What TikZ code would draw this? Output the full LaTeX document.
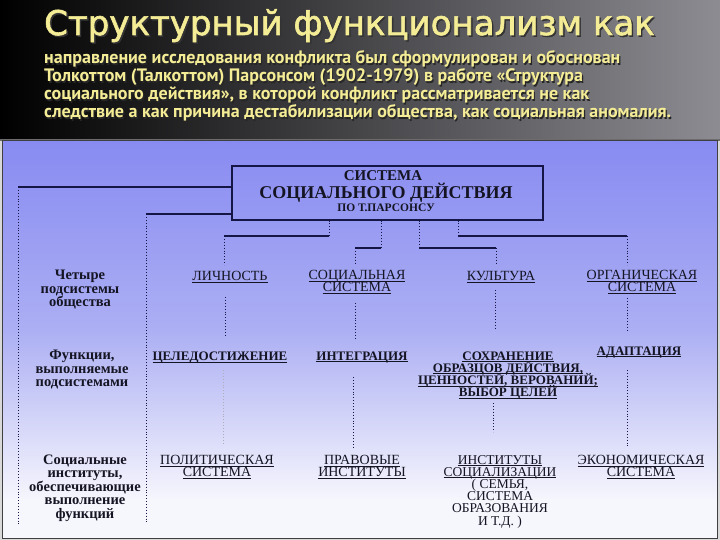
\documentclass[tikz,border=0pt]{standalone}
\usepackage{fontspec}
\setmainfont{Liberation Serif}
\newfontfamily\hdrfont[FakeBold=1.8]{DejaVu Sans}
\newfontfamily\parfont{PT Sans}
\usetikzlibrary{calc}
\newcommand\uln[1]{\underline{\raisebox{0pt}[\height][0pt]{#1}}}
\definecolor{hdryellow}{RGB}{245,237,150}
\definecolor{navy}{RGB}{22,22,70}
\definecolor{ink}{RGB}{20,20,35}
\definecolor{blueA}{RGB}{136,139,241}
\definecolor{blueB}{RGB}{172,175,243}
\definecolor{blueC}{RGB}{246,246,253}
\definecolor{hdrR}{RGB}{140,140,146}
\begin{document}
\lineskiplimit=-100pt
\begin{tikzpicture}[x=1pt,y=-1pt,
  ttl/.style={anchor=base west, inner sep=0pt, font=\hdrfont\fontsize{34}{34}\selectfont},
  par/.style={anchor=base west, inner sep=0pt, font=\parfont\bfseries\fontsize{18}{18}\selectfont},
  side/.style={align=center, inner sep=0pt, text=ink, font=\bfseries\fontsize{14.5}{13.5}\selectfont},
  lbl/.style={align=center, inner sep=0pt, text=ink, font=\fontsize{14}{12.5}\selectfont},
  blbl/.style={align=center, inner sep=0pt, text=ink, font=\bfseries\fontsize{13}{12.2}\selectfont},
  boxtxt/.style={inner sep=0pt, text=ink},
  hline/.style={draw=navy, line width=1.2pt},
  vline/.style={draw=navy, dotted, line width=0.9pt},
  fline/.style={draw=navy!35, dotted, line width=0.9pt},
]
\useasboundingbox (0,0) rectangle (720,540);
% header
\shade[left color=black, right color=hdrR] (0,0) rectangle (720,140);
\fill[gray!85!black] (0,139) rectangle (720,141);
% panel
\fill[gray!30] (0,141) rectangle (720,540);
\shade[top color=blueA, bottom color=blueB] (2,141) rectangle (717,330);
\shade[top color=blueB, bottom color=blueC] (2,330) rectangle (717,500);
\fill[blueC] (2,500) rectangle (717,538);
\draw[draw=gray!50!black, line width=1pt] (2,141) rectangle (717,538);

% title
\node[ttl, text=black!80] (tsh) at (45.5,36.5) {Структурный функционализм как};
\node[ttl, text=hdryellow] (title) at (44,35) {Структурный функционализм как};
% paragraph
\foreach \i/\y/\t in {1/64/{направление исследования конфликта был сформулирован и обоснован},
                      2/82/{Толкоттом (Талкоттом) Парсонсом (1902-1979) в работе «Структура},
                      3/100/{социального действия», в которой конфликт рассматривается не как},
                      4/118/{следствие а как причина дестабилизации общества, как социальная аномалия.}}{
  \node[par, text=black!85] (ps\i) at (45.2,\y+1.2) {\t};
  \node[par, text=hdryellow] (p\i) at (44,\y) {\t};
}

% main box
\node[draw=navy, line width=1.1pt, minimum width=311pt, minimum height=54pt, inner sep=0pt] (sys) at (387.5,193) {};
\node[boxtxt, font=\bfseries\fontsize{15}{15}\selectfont] (sysA) at (383,176) {СИСТЕМА};
\node[boxtxt, font=\bfseries\fontsize{18}{19}\selectfont] (sysB) at (386,193) {СОЦИАЛЬНОГО ДЕЙСТВИЯ};
\node[boxtxt, font=\bfseries\fontsize{11.5}{12}\selectfont] (sysC) at (386,208) {ПО Т.ПАРСОНСУ};

% left column
\node[side] (four) at (80,290) {Четыре\\подсистемы\\общества};
\node[side] (func) at (82,370) {Функции,\\выполняемые\\подсистемами};
\node[side] (inst) at (85,488) {Социальные\\институты,\\обеспечивающие\\выполнение\\функций};

% row 1
\node[lbl] (lich) at (230,277) {\uln{ЛИЧНОСТЬ}};
\node[lbl] (soc) at (357,282) {\uln{СОЦИАЛЬНАЯ}\\\uln{СИСТЕМА}};
\node[lbl] (cult) at (501,277) {\uln{КУЛЬТУРА}};
\node[lbl] (org) at (642,282) {\uln{ОРГАНИЧЕСКАЯ}\\\uln{СИСТЕМА}};
% row 2
\node[blbl] (goal) at (220,357) {\uln{ЦЕЛЕДОСТИЖЕНИЕ}};
\node[blbl] (integ) at (362,357) {\uln{ИНТЕГРАЦИЯ}};
\node[blbl] (sohr) at (508,375) {\uln{СОХРАНЕНИЕ}\\\uln{ОБРАЗЦОВ ДЕЙСТВИЯ,}\\\uln{ЦЕННОСТЕЙ, ВЕРОВАНИЙ;}\\\uln{ВЫБОР ЦЕЛЕЙ}};
\node[blbl] (adapt) at (639,352) {\uln{АДАПТАЦИЯ}};
% row 3
\node[lbl, font=\fontsize{14}{12.5}\selectfont] (pol) at (217,467) {\uln{ПОЛИТИЧЕСКАЯ}\\\uln{СИСТЕМА}};
\node[lbl, font=\fontsize{14}{12.5}\selectfont] (prav) at (362,467) {\uln{ПРАВОВЫЕ}\\\uln{ИНСТИТУТЫ}};
\node[lbl, font=\fontsize{13.5}{12.2}\selectfont] (socz) at (500,491.5) {\uln{ИНСТИТУТЫ}\\\uln{СОЦИАЛИЗАЦИИ}\\( СЕМЬЯ,\\СИСТЕМА\\ОБРАЗОВАНИЯ\\И Т.Д. )};
\node[lbl, font=\fontsize{14}{12.5}\selectfont] (econ) at (641,467) {\uln{ЭКОНОМИЧЕСКАЯ}\\\uln{СИСТЕМА}};

% connectors from the box to the left
\coordinate (L1) at (18,187);
\coordinate (L1e) at (18,525);
\coordinate (L2) at (146,214);
\coordinate (L2e) at (146,523);
\draw[hline] ($(sys.west)+(0,-6)$) -- (L1);
\draw[vline] (L1) -- (L1e);
\draw[hline] ($(sys.west)+(0,21)$) -- (L2);
\draw[vline] (L2) -- (L2e);

% connectors from the box down to row 1
\coordinate (a1) at (329,236); \coordinate (a2) at (224,236);
\draw[vline] ($(sys.south)+(-58.5,0)$) -- (a1);
\draw[hline] (a1) -- (a2);
\draw[vline] (a2) -- ($(lich)+(-6,-12)$);
\coordinate (b1) at (381,248); \coordinate (b2) at (355,248);
\draw[vline] ($(sys.south)+(-6.5,0)$) -- (b1);
\draw[hline] (b1) -- (b2);
\draw[vline] (b2) -- ($(soc)+(-2,-17)$);
\coordinate (c1) at (419,248); \coordinate (c2) at (496,248);
\draw[vline] ($(sys.south)+(31.5,0)$) -- (c1);
\draw[hline] (c1) -- (c2);
\draw[vline] (c2) -- ($(cult)+(-5,-12)$);
\coordinate (d1) at (458,236); \coordinate (d2) at (627,236);
\draw[vline] ($(sys.south)+(70.5,0)$) -- (d1);
\draw[hline] (d1) -- (d2);
\draw[vline] (d2) -- ($(org)+(-15,-17)$);

% row 1 -> row 2
\draw[vline] ($(lich)+(-5,20)$) -- ($(goal)+(5,-20)$);
\draw[vline] ($(soc)+(-2,21)$) -- ($(integ)+(-7,-17)$);
\draw[vline] ($(cult)+(-6,13)$) -- ($(sohr)+(-13,-45)$);
\draw[vline] ($(org)+(-15,16)$) -- ($(adapt)+(-12,-22)$);
% row 2 -> row 3
\draw[fline] ($(goal)+(3,13)$) -- ($(pol)+(6,-22)$);
\draw[vline] ($(integ)+(-9,20)$) -- ($(prav)+(-9,-20)$);
\draw[vline] ($(sohr)+(-15,28)$) -- ($(socz)+(-7,-59.5)$);
\draw[vline] ($(adapt)+(-12,18)$) -- ($(econ)+(-14,-20)$);
\end{tikzpicture}
\end{document}
